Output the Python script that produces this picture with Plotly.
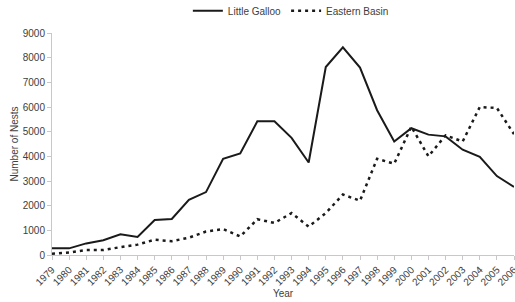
import plotly.graph_objects as go

years = [str(y) for y in range(1979, 2007)]
little_galloo = [270, 270, 470, 600, 840, 730, 1420, 1460, 2240, 2550, 3900, 4120,
                 5420, 5420, 4750, 3750, 7620, 8420, 7600, 5870, 4600, 5140, 4880, 4810,
                 4270, 3980, 3200, 2760]
eastern_basin = [50, 100, 200, 200, 320, 420, 620, 560, 700, 950, 1050, 750,
                 1450, 1300, 1700, 1150, 1700, 2450, 2200, 3900, 3700, 5200, 4000, 4850,
                 4600, 6000, 5960, 4900]

txt = "#404040"
font = dict(family="Liberation Sans, Arial, sans-serif", color=txt, size=10)

fig = go.Figure()
fig.add_trace(go.Scatter(x=years, y=little_galloo, mode="lines", name="Little Galloo",
                         line=dict(color="#1a1a1a", width=2), cliponaxis=False))
fig.add_trace(go.Scatter(x=years, y=eastern_basin, mode="lines", name="Eastern Basin",
                         line=dict(color="#1a1a1a", width=2.5, dash="3px,4px"), cliponaxis=False))

fig.update_layout(
    width=515, height=302,
    margin=dict(l=52, r=1, t=33, b=47, autoexpand=False),
    paper_bgcolor="white", plot_bgcolor="white",
    font=font,
    showlegend=True,
    legend=dict(orientation="h", x=0.517, xanchor="center", y=1.165, yanchor="top",
                itemwidth=30, font=dict(size=10, color=txt),
                bgcolor="rgba(0,0,0,0)"),
    xaxis=dict(
        type="category", range=[0, 27], tickangle=-45, automargin=False,
        showline=True, linecolor="#c8c8c8", linewidth=1,
        ticks="outside", ticklen=4, tickcolor="#c8c8c8",
        showgrid=False, zeroline=False,
        tickfont=dict(size=10, color=txt),
        title=dict(text="Year", font=dict(size=10, color=txt), standoff=2),
    ),
    yaxis=dict(
        range=[0, 9000], dtick=1000, automargin=False,
        showline=True, linecolor="#c8c8c8", linewidth=1,
        ticks="outside", ticklen=4, tickcolor="#c8c8c8",
        showgrid=False, zeroline=False,
        tickfont=dict(size=10, color=txt),
        title=dict(text="Number of Nests", font=dict(size=10, color=txt), standoff=2),
    ),
)

fig.write_html("out.html", config={"displayModeBar": False},
               post_script="document.body.style.margin='0';document.body.style.overflow='hidden';")
